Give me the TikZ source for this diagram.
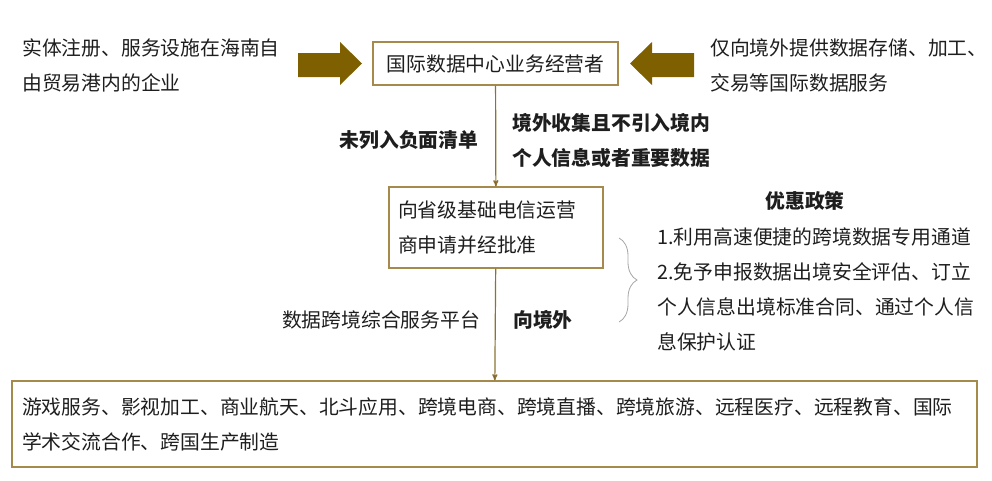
\documentclass[tikz,border=0pt]{standalone}
\usepackage{fontspec}
\setmainfont{Noto Sans CJK SC}
\usepackage{tikz}
\usetikzlibrary{arrows,positioning,decorations.pathreplacing}
\definecolor{boxgold}{HTML}{A68A4B}
\definecolor{arrowgold}{HTML}{7F6000}
\definecolor{linegold}{HTML}{8C7332}
\definecolor{txt}{HTML}{1E1E1E}

\begin{document}
\begin{tikzpicture}[x=1pt,y=-1pt,->,>=stealth',semithick,
        every node/.style={text=txt,font=\fontsize{19.8}{35}\selectfont},
        box/.style={draw=boxgold,line width=1.1pt,inner sep=0pt},
        lbl/.style={align=left,inner sep=0pt},
        strong/.style={lbl,font=\fontsize{19.8}{35}\selectfont\bfseries}]
            \useasboundingbox (0,0) rectangle (992,480);

            \node [box,minimum width=245,minimum height=43]  (op)    at (495.5,63.5) {国际数据中心业务经营者};
            \node [box,minimum width=214,minimum height=81,align=left,text width=196] (apply) at (496,227.5) {向省级基础电信运营\\商申请并经批准};
            \node [box,minimum width=965,minimum height=86,align=left,text width=945] (fields) at (494.5,424) {游戏服务、影视加工、商业航天、北斗应用、跨境电商、跨境直播、跨境旅游、远程医疗、远程教育、国际\\学术交流合作、跨国生产制造};

            \node [lbl,anchor=west]    (firm)    at (22,65.5)  {实体注册、服务设施在海南自\\由贸易港内的企业};
            \node [lbl,anchor=west]    (service) at (710,65.5) {仅向境外提供数据存储、加工、\\交易等国际数据服务};

            \node [strong]             (neg)     at (409,140)  {未列入负面清单};
            \node [strong,anchor=west] (collect) at (512,140.5) {境外收集且不引入境内\\个人信息或者重要数据};
            \node [lbl]                (platform) at (381,320) {数据跨境综合服务平台};
            \node [strong,anchor=west] (abroad)  at (513,320)  {向境外};
            \node [strong]             (policy)  at (805,201)  {优惠政策};
            \node [lbl,anchor=west]    (items)   at (657,289.5) {1.利用高速便捷的跨境数据专用通道\\2.免予申报数据出境安全评估、订立\\个人信息出境标准合同、通过个人信\\息保护认证};

            % block arrows
            \fill [arrowgold,draw=none] (298,53) -- (340,53) -- (340,42) -- (362,63.5) -- (340,85) -- (340,77) -- (298,77) -- cycle;
            \fill [arrowgold,draw=none] (694,53) -- (652,53) -- (652,42) -- (630,63.5) -- (652,85) -- (652,77) -- (694,77) -- cycle;

            \path [draw=linegold,line width=1.2pt] (op) edge (apply)
            (apply) edge (fields);

            % brace
            \coordinate (brTop) at (619,238);
            \coordinate (brBot) at (619,322);
            \draw [-,gray!70,line width=0.8pt,decorate,decoration={brace,amplitude=18pt}] (brTop) -- (brBot);
        \end{tikzpicture}
\end{document}
